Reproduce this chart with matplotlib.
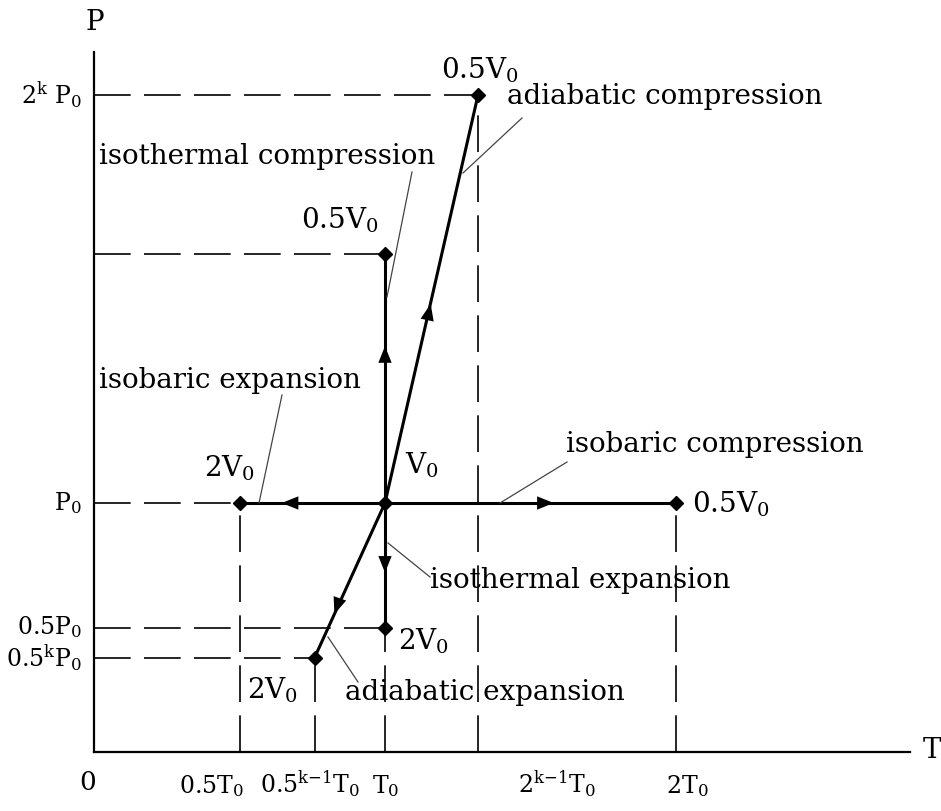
import matplotlib.pyplot as plt

plt.rcParams['font.family'] = 'DejaVu Serif'
plt.rcParams['mathtext.fontset'] = 'dejavuserif'

# state points (T in units of T0, P in units of P0), k = 1.4
center = (1.0, 1.0)
iso_p_left = (0.5, 1.0)      # 2V0
iso_p_right = (2.0, 1.0)     # 0.5V0
iso_t_up = (1.0, 2.0)        # 0.5V0
iso_t_down = (1.0, 0.5)      # 2V0
adi_up = (1.32, 2.64)        # 0.5V0
adi_down = (0.758, 0.379)    # 2V0

x_labels = ['0.5T$_0$', '0.5$^{\\text{k\u22121}}$T$_0$', 'T$_0$',
            '2$^{\\text{k\u22121}}$T$_0$', '2T$_0$']
y_ticks = [2.64, 1.0, 0.5, 0.379]
y_labels = ['2$^\\text{k}$ P$_0$', 'P$_0$', '0.5P$_0$', '0.5$^\\text{k}$P$_0$']

# pixel layout of the original drawing
X0, Y0, SX, SY = 94, 752, 291, 249


def px(x, y):
    return ((x - X0) / SX, (Y0 - y) / SY)


fig = plt.figure(figsize=(9.41, 8.11), dpi=100)
ax = fig.add_axes([X0 / 941, (811 - Y0) / 811, (910 - X0) / 941, (Y0 - 52) / 811])
ax.set_xlim(0, (910 - X0) / SX)
ax.set_ylim(0, (Y0 - 52) / SY)
for s in ['top', 'right']:
    ax.spines[s].set_visible(False)
for s in ['left', 'bottom']:
    ax.spines[s].set_linewidth(1.6)
ax.set_xticks([])
ax.set_yticks([])

fs = 20
fs_tick = 17
dash = dict(color='black', lw=1.2, dashes=(22, 8))

# dashed guide lines
for (t, p) in [adi_up, iso_t_up, iso_p_left, iso_t_down, adi_down]:
    ax.plot([0, t], [p, p], **dash)
for (t, p) in [iso_p_left, adi_down, iso_t_down, adi_up, iso_p_right]:
    ax.plot([t, t], [0, p], **dash)

# process lines
lw = 2.2
ax.plot([iso_p_left[0], iso_p_right[0]], [1, 1], color='black', lw=lw)
ax.plot([1, 1], [iso_t_down[1], iso_t_up[1]], color='black', lw=lw)
ax.plot([adi_down[0], center[0], adi_up[0]], [adi_down[1], center[1], adi_up[1]],
        color='black', lw=lw)

pts = [center, iso_p_left, iso_p_right, iso_t_up, iso_t_down, adi_up, adi_down]
ax.plot([p[0] for p in pts], [p[1] for p in pts], 'D', color='black', ms=7)


# arrowheads
def head(tail, tip):
    ax.annotate('', xy=tip, xytext=tail,
                arrowprops=dict(arrowstyle='-|>,head_length=0.6,head_width=0.24',
                                mutation_scale=20, color='black', lw=0,
                                shrinkA=0, shrinkB=0))


head((1.0, 1.5), (1.0, 1.63))
head((1.12, 1.6), (1.157, 1.8))
head((0.74, 1.0), (0.645, 1.0))
head((1.45, 1.0), (1.58, 1.0))
head((1.0, 0.82), (1.0, 0.72))
head((0.855, 0.65), (0.826, 0.554))

# leader lines
leaders = [((412, 172), (387, 297)),
           ((522, 118), (463, 173)),
           ((282, 395), (259, 503)),
           ((567, 462), (500, 503)),
           ((430, 577), (388, 543)),
           ((358, 682), (328, 637))]
for a, b in leaders:
    pa, pb = px(*a), px(*b)
    ax.plot([pa[0], pb[0]], [pa[1], pb[1]], color='#444444', lw=0.9)


def label(x, y, s, ha='center', va='center', size=fs):
    ax.text(*px(x, y), s, fontsize=size, ha=ha, va=va, clip_on=False)


# process labels
label(665, 97, 'adiabatic compression')
label(267, 157, 'isothermal compression')
label(230, 380, 'isobaric expansion')
label(715, 445, 'isobaric compression')
label(580, 580, 'isothermal expansion')
label(485, 693, 'adiabatic expansion')

# state labels
label(480, 70, '0.5V$_0$')
label(340, 220, '0.5V$_0$')
label(230, 468, '2V$_0$')
label(422, 465, 'V$_0$')
label(692, 504, '0.5V$_0$', ha='left')
label(398, 641, '2V$_0$', ha='left')
label(273, 690, '2V$_0$')

# axis labels
label(88, 782, '0', size=19)
for x, s in zip([212, 310, 386, 557, 687], x_labels):
    label(x, 793, s, va='baseline', size=fs_tick)
for p, s in zip(y_ticks, y_labels):
    ax.text(-12 / SX, p, s, fontsize=fs_tick, ha='right', va='center', clip_on=False)

label(95, 23, 'P')
label(932, 750, 'T')

fig.savefig('out.png', dpi=100)
